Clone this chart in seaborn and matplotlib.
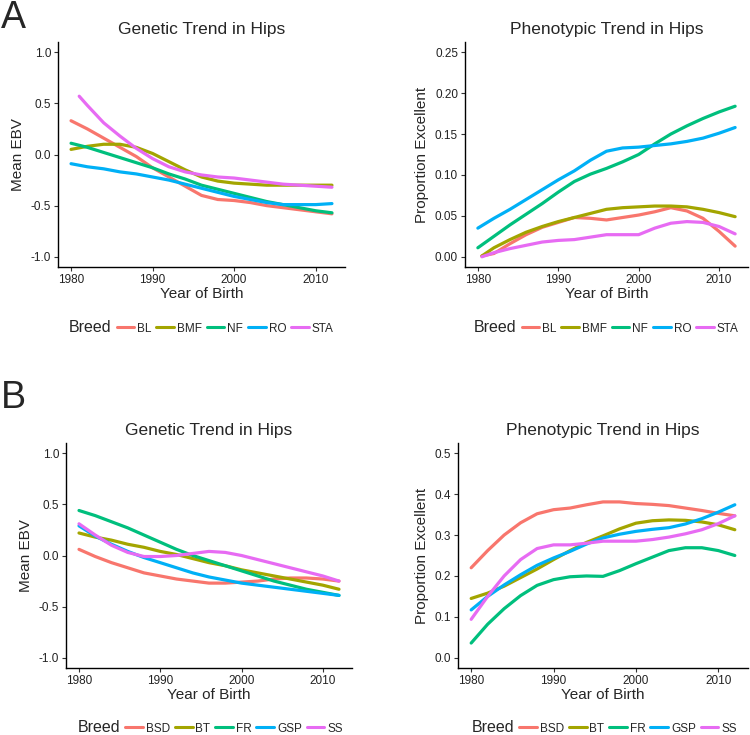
import numpy as np
import pandas as pd
import matplotlib
matplotlib.use("Agg")
import matplotlib.pyplot as plt
import seaborn as sns
from matplotlib.lines import Line2D

sns.set_style("white")
plt.rcParams['font.family'] = ['Liberation Sans', 'DejaVu Sans']

# ---------------- data ----------------
YEARS = [1980, 1982, 1984, 1986, 1988, 1990, 1992, 1994, 1996, 1998,
         2000, 2002, 2004, 2006, 2008, 2010, 2012]
YEARS_LATE = [1981, 1982, 1984, 1986, 1988, 1990, 1992, 1994, 1996, 1998,
              2000, 2002, 2004, 2006, 2008, 2010, 2012]
YEARS_HALF = [1980.5, 1982, 1984, 1986, 1988, 1990, 1992, 1994, 1996, 1998,
              2000, 2002, 2004, 2006, 2008, 2010, 2012]

BREEDS_A = ["BL", "BMF", "NF", "RO", "STA"]
BREEDS_B = ["BSD", "BT", "FR", "GSP", "SS"]

# Panel A, genetic trend (mean EBV)
A_GEN = {
    "BL":  [0.33, 0.25, 0.16, 0.07, -0.02, -0.13, -0.22, -0.31, -0.40, -0.44,
            -0.45, -0.47, -0.50, -0.52, -0.54, -0.56, -0.58],
    "BMF": [0.05, 0.08, 0.10, 0.10, 0.07, 0.01, -0.07, -0.15, -0.22, -0.26,
            -0.28, -0.29, -0.30, -0.30, -0.30, -0.30, -0.30],
    "NF":  [0.11, 0.07, 0.02, -0.03, -0.08, -0.13, -0.19, -0.24, -0.30, -0.34,
            -0.38, -0.42, -0.46, -0.49, -0.52, -0.55, -0.57],
    "RO":  [-0.09, -0.12, -0.14, -0.17, -0.19, -0.22, -0.25, -0.29, -0.33, -0.37,
            -0.41, -0.44, -0.47, -0.49, -0.49, -0.49, -0.48],
    "STA": [0.57, 0.48, 0.31, 0.18, 0.06, -0.04, -0.12, -0.17, -0.20, -0.22,
            -0.23, -0.25, -0.27, -0.29, -0.30, -0.31, -0.32],
}
A_GEN_YEARS = {"BL": YEARS, "BMF": YEARS, "NF": YEARS, "RO": YEARS, "STA": YEARS_LATE}

# Panel A, phenotypic trend (proportion excellent)
A_PHE = {
    "BL":  [0.001, 0.004, 0.016, 0.027, 0.036, 0.042, 0.048, 0.047, 0.045, 0.048,
            0.051, 0.055, 0.060, 0.056, 0.047, 0.031, 0.013],
    "BMF": [0.001, 0.011, 0.021, 0.030, 0.037, 0.043, 0.048, 0.053, 0.058, 0.060,
            0.061, 0.062, 0.062, 0.061, 0.058, 0.054, 0.049],
    "NF":  [0.011, 0.025, 0.039, 0.052, 0.065, 0.079, 0.092, 0.101, 0.108, 0.116,
            0.125, 0.138, 0.150, 0.160, 0.169, 0.177, 0.184],
    "RO":  [0.035, 0.047, 0.058, 0.070, 0.082, 0.094, 0.105, 0.118, 0.129, 0.133,
            0.134, 0.136, 0.138, 0.141, 0.145, 0.151, 0.158],
    "STA": [0.000, 0.005, 0.010, 0.014, 0.018, 0.020, 0.021, 0.024, 0.027, 0.027,
            0.027, 0.035, 0.041, 0.043, 0.042, 0.037, 0.028],
}
A_PHE_YEARS = {"BL": YEARS_HALF, "BMF": YEARS_HALF, "NF": YEARS, "RO": YEARS, "STA": YEARS_HALF}

# Panel B, genetic trend
B_GEN = {
    "BSD": [0.06, -0.01, -0.07, -0.12, -0.17, -0.20, -0.23, -0.25, -0.27, -0.27,
            -0.26, -0.25, -0.23, -0.22, -0.22, -0.23, -0.25],
    "BT":  [0.22, 0.18, 0.15, 0.11, 0.08, 0.04, 0.01, -0.03, -0.07, -0.10,
            -0.14, -0.17, -0.20, -0.23, -0.26, -0.29, -0.33],
    "FR":  [0.44, 0.39, 0.33, 0.27, 0.20, 0.13, 0.06, 0.00, -0.05, -0.10,
            -0.15, -0.20, -0.25, -0.29, -0.33, -0.36, -0.39],
    "GSP": [0.29, 0.19, 0.11, 0.04, -0.02, -0.07, -0.12, -0.17, -0.21, -0.24,
            -0.27, -0.29, -0.31, -0.33, -0.35, -0.37, -0.39],
    "SS":  [0.31, 0.20, 0.10, 0.03, -0.01, -0.01, 0.00, 0.02, 0.04, 0.03,
            0.00, -0.04, -0.08, -0.12, -0.16, -0.20, -0.25],
}

# Panel B, phenotypic trend
B_PHE = {
    "BSD": [0.220, 0.262, 0.300, 0.330, 0.352, 0.362, 0.366, 0.374, 0.381, 0.381,
            0.377, 0.375, 0.372, 0.366, 0.360, 0.353, 0.347],
    "BT":  [0.145, 0.158, 0.175, 0.196, 0.217, 0.240, 0.262, 0.282, 0.298, 0.315,
            0.329, 0.335, 0.337, 0.336, 0.332, 0.325, 0.313],
    "FR":  [0.036, 0.082, 0.120, 0.152, 0.177, 0.191, 0.198, 0.200, 0.199, 0.213,
            0.230, 0.246, 0.262, 0.269, 0.269, 0.262, 0.250],
    "GSP": [0.117, 0.150, 0.178, 0.203, 0.226, 0.244, 0.260, 0.278, 0.293, 0.302,
            0.309, 0.314, 0.318, 0.327, 0.340, 0.356, 0.374],
    "SS":  [0.094, 0.150, 0.200, 0.240, 0.267, 0.276, 0.276, 0.280, 0.285, 0.285,
            0.285, 0.289, 0.295, 0.303, 0.313, 0.328, 0.347],
}

PALETTE = ["#F8766D", "#A3A500", "#00BF7D", "#00B0F6", "#E76BF3"]
X_TICKS = [1980, 1990, 2000, 2010]


def long_df(values, breeds, years_map=None):
    rows = []
    for b in breeds:
        yrs = years_map[b] if years_map else YEARS
        for x, y in zip(yrs, values[b]):
            rows.append((b, x, y))
    return pd.DataFrame(rows, columns=["Breed", "Year", "Value"])


W, H = 750, 735
fig = plt.figure(figsize=(W / 100, H / 100), dpi=100)


def px_axes(x0, y0, x1, y1):
    return fig.add_axes([x0 / W, 1 - y1 / H, (x1 - x0) / W, (y1 - y0) / H])


def style(ax, title, ylabel, ylim, yticks, yfmt):
    ax.set_xlim(1978.4, 2013.6)
    ax.set_ylim(*ylim)
    ax.set_xticks(X_TICKS)
    ax.set_yticks(yticks)
    ax.set_yticklabels([yfmt.format(v) for v in yticks])
    for s in ["top", "right"]:
        ax.spines[s].set_visible(False)
    for s in ["left", "bottom"]:
        ax.spines[s].set_color("black")
        ax.spines[s].set_linewidth(1.0)
    ax.tick_params(axis="both", direction="out", length=3, width=0.8,
                   color="#333333", labelsize=8.5, labelcolor="#222222",
                   left=True, bottom=True, pad=2)
    ax.set_title(title, fontsize=12.5, pad=6)
    ax.set_xlabel("Year of Birth", fontsize=11, labelpad=1)
    ax.set_ylabel(ylabel, fontsize=11, labelpad=4)
    ax.grid(False)


def legend(breeds, x_center, y_px):
    handles = [Line2D([], [], color=c, lw=2.2) for c in PALETTE]
    handles = [Line2D([], [], color="none")] + handles
    labels = ["Breed"] + breeds
    leg = fig.legend(handles, labels, ncol=6, loc="center",
                     bbox_to_anchor=(x_center / W, 1 - y_px / H),
                     frameon=False, fontsize=8.5, handlelength=1.5,
                     handletextpad=0.25, columnspacing=0.4,
                     borderpad=0.1, borderaxespad=0.0)
    t = leg.get_texts()[0]
    t.set_fontsize(11.5)
    return leg


panels = [
    ((58, 42, 345, 267), A_GEN, BREEDS_A, A_GEN_YEARS, "Genetic Trend in Hips",
     "Mean EBV", (-1.1, 1.1), [-1.0, -0.5, 0.0, 0.5, 1.0], "{:.1f}"),
    ((465, 42, 748, 267), A_PHE, BREEDS_A, A_PHE_YEARS, "Phenotypic Trend in Hips",
     "Proportion Excellent", (-0.0125, 0.2625), [0.0, 0.05, 0.10, 0.15, 0.20, 0.25], "{:.2f}"),
    ((66, 443, 352, 668), B_GEN, BREEDS_B, None, "Genetic Trend in Hips",
     "Mean EBV", (-1.1, 1.1), [-1.0, -0.5, 0.0, 0.5, 1.0], "{:.1f}"),
    ((458, 443, 748, 668), B_PHE, BREEDS_B, None, "Phenotypic Trend in Hips",
     "Proportion Excellent", (-0.025, 0.525), [0.0, 0.1, 0.2, 0.3, 0.4, 0.5], "{:.1f}"),
]

for box, vals, breeds, ymap, title, ylabel, ylim, yticks, yfmt in panels:
    ax = px_axes(*box)
    df = long_df(vals, breeds, ymap)
    sns.lineplot(data=df, x="Year", y="Value", hue="Breed", hue_order=breeds,
                 palette=PALETTE, lw=2.3, legend=False, ax=ax)
    style(ax, title, ylabel, ylim, yticks, yfmt)

legend(BREEDS_A, 191, 327)
legend(BREEDS_A, 596, 327)
legend(BREEDS_B, 200, 727)
legend(BREEDS_B, 594, 727)

fig.text(1 / W, 1 - 18 / H, "A", fontsize=27, va="center", ha="left")
fig.text(1 / W, 1 - 398 / H, "B", fontsize=27, va="center", ha="left")

fig.savefig("out.png", dpi=100)
